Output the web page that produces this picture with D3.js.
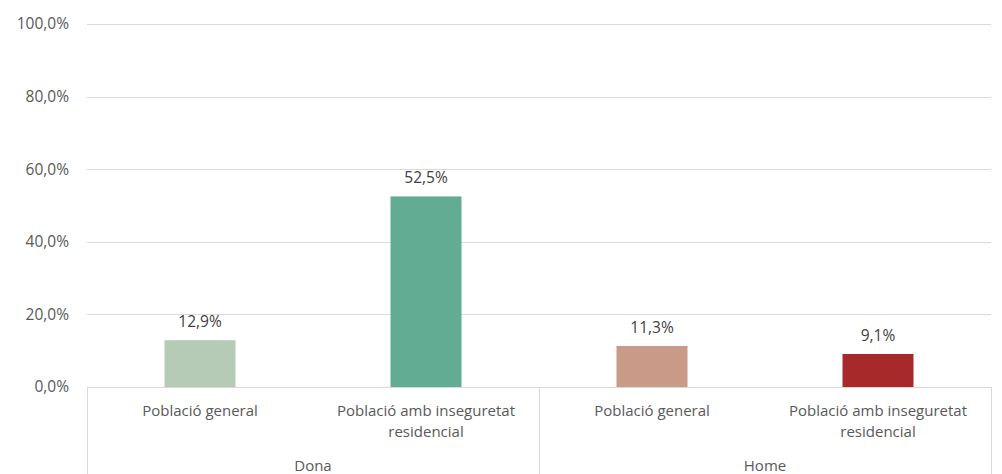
<!DOCTYPE html>
<html><head><meta charset="utf-8">
<script src="https://cdn.jsdelivr.net/npm/d3@7"></script>
<style>body{margin:0;background:#fff}svg{display:block}</style>
</head><body><svg id="c" width="1002" height="474"></svg>
<script>
const groups = ["Dona", "Home"];
const categories = ["Població general", "Població amb inseguretat residencial", "Població general", "Població amb inseguretat residencial"];
const categoryLines = [["Població general"], ["Població amb inseguretat", "residencial"], ["Població general"], ["Població amb inseguretat", "residencial"]];
const categoryGroup = ["Dona", "Dona", "Home", "Home"];
const values = [12.9, 52.5, 11.3, 9.1];
const colors = ["#b5cbb5", "#63ac94", "#c89a87", "#a8292a"];
const yTicks = [0, 20, 40, 60, 80, 100];

(function () {
const svg = d3.select("#c");
const font = "'Open Sans', 'Liberation Sans', sans-serif";
const mLeft = 87, mRight = 991, mTop = 24, mBottom = 387;
const keys = d3.range(values.length);
const x = d3.scaleBand().domain(keys).range([mLeft, mRight]).paddingInner(0).paddingOuter(0);
const y = d3.scaleLinear().domain([0, 100]).range([mBottom, mTop]);
const fmt = v => d3.format(".1f")(v).replace(".", ",") + "%";

svg.append("g").selectAll("line").data(yTicks).join("line")
  .attr("x1", mLeft).attr("x2", mRight)
  .attr("y1", d => Math.round(y(d)) + 0.5).attr("y2", d => Math.round(y(d)) + 0.5)
  .attr("stroke", "#d9d9d9").attr("stroke-width", 1);

svg.append("g").selectAll("text").data(yTicks).join("text")
  .attr("x", 69).attr("y", d => y(d)).attr("dy", "0.35em")
  .attr("text-anchor", "end").attr("font-family", font).attr("font-size", 15.5)
  .attr("fill", "#595959").text(d => fmt(d));

const bw = 71;
svg.append("g").selectAll("rect").data(keys).join("rect")
  .attr("x", i => x(i) + x.bandwidth() / 2 - bw / 2).attr("width", bw)
  .attr("y", i => y(values[i])).attr("height", i => y(0) - y(values[i]))
  .attr("fill", i => colors[i]);

svg.append("g").selectAll("text").data(keys).join("text")
  .attr("x", i => x(i) + x.bandwidth() / 2).attr("y", i => y(values[i]) - 13)
  .attr("text-anchor", "middle").attr("font-family", font).attr("font-size", 15.5)
  .attr("fill", "#404040").text(i => fmt(values[i]));

const sepX = [mLeft];
groups.forEach(g => {
  const idx = keys.filter(i => categoryGroup[i] === g);
  sepX.push(x(idx[idx.length - 1]) + x.bandwidth());
});
svg.append("g").selectAll("line").data(sepX).join("line")
  .attr("x1", d => Math.round(d) + 0.5).attr("x2", d => Math.round(d) + 0.5)
  .attr("y1", mBottom).attr("y2", 474)
  .attr("stroke", "#d9d9d9").attr("stroke-width", 1);

const cl = svg.append("g").selectAll("text").data(keys).join("text")
  .attr("text-anchor", "middle").attr("font-family", font).attr("font-size", 15)
  .attr("fill", "#595959");
cl.each(function (i) {
  const t = d3.select(this);
  categoryLines[i].forEach((ln, k) => {
    t.append("tspan").attr("x", x(i) + x.bandwidth() / 2).attr("y", 416 + k * 21).text(ln);
  });
});

svg.append("g").selectAll("text").data(groups).join("text")
  .attr("x", g => {
    const idx = keys.filter(i => categoryGroup[i] === g);
    return (x(idx[0]) + x(idx[idx.length - 1]) + x.bandwidth()) / 2;
  })
  .attr("y", 471).attr("text-anchor", "middle").attr("font-family", font).attr("font-size", 15)
  .attr("fill", "#595959").text(g => g);
})();
</script></body></html>
